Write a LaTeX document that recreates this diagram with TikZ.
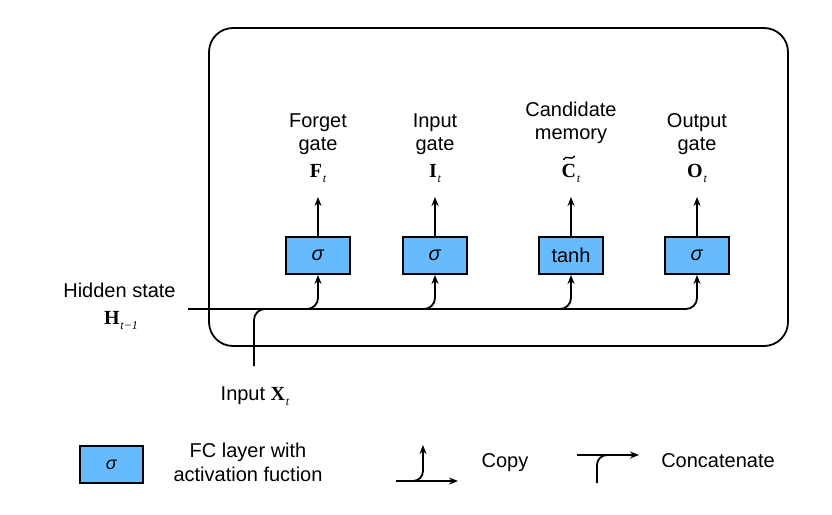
\documentclass[tikz,border=0pt]{standalone}
\usepackage{fontspec}
\setmainfont{Liberation Sans}
\newfontfamily\tmsfont{Liberation Serif}
\usetikzlibrary{arrows.meta}
\definecolor{gateblue}{RGB}{102,187,255}
\newcommand\mysub[1]{\kern0.8pt\raisebox{-5pt}{\tmsfont\itshape\fontsize{12}{12}\selectfont #1}}
\newcommand\mybv[2]{{\tmsfont\bfseries\fontsize{20}{20}\selectfont #1}\mysub{#2}}
\newcommand\mysig{\textit{σ}}
\tikzset{
  cellbox/.style={line width=1.8pt, rounded corners=24pt},
  gatebox/.style={draw, line width=2pt, fill=gateblue, minimum width=64pt, minimum height=37pt, inner sep=0pt},
  conn/.style={line width=1.8pt, rounded corners=11pt},
  arr/.style={conn, -{Stealth[length=9pt,width=7pt]}},
  lbl/.style={anchor=base, inner sep=0pt}
}
\begin{document}
\begin{tikzpicture}[x=1pt,y=-1pt,font=\fontsize{20}{23}\selectfont]
\useasboundingbox (0,0) rectangle (832,514);

% LSTM cell outline
\draw[cellbox] (209,28) rectangle (788,346);

% gates
\node[gatebox] (g1) at (318,255.5) {\mysig};
\node[gatebox] (g2) at (435,255.5) {\mysig};
\node[gatebox] (g3) at (571,255.5) {tanh};
\node[gatebox] (g4) at (697,255.5) {\mysig};

% gate labels
\node[lbl] (f1) at (318,127) {Forget};
\node[lbl] (f2) at (318,150) {gate};
\node[lbl] (f3) at (318,177) {\mybv{F}{t}};
\node[lbl] (i1) at (435,127) {Input};
\node[lbl] (i2) at (435,150) {gate};
\node[lbl] (i3) at (435,177) {\mybv{I}{t}};
\node[lbl] (c1) at (571,116) {Candidate};
\node[lbl] (c2) at (571,139) {memory};
\node[lbl] (c3) at (571,177) {\mybv{C}{t}};
% tilde over C
\draw[line width=1.4pt, line cap=round] (563.5,159.5) .. controls (566.5,154) and (570.5,161.5) .. (574.5,156);
\node[lbl] (o1) at (697,127) {Output};
\node[lbl] (o2) at (697,150) {gate};
\node[lbl] (o3) at (697,177) {\mybv{O}{t}};

% outputs of gates
\draw[arr] (g1.north) -- ++(0,-39);
\draw[arr] (g2.north) -- ++(0,-39);
\draw[arr] (g3.north) -- ++(0,-39);
\draw[arr] (g4.north) -- ++(0,-39);

% hidden state and input
\node[lbl] (hid1) at (119.5,297) {Hidden state};
\node[lbl] (hid2) at (121,324) {\mybv{H}{t−1}};
\coordinate (hs) at (188,309);
\node[lbl] (inl) at (255,400) {Input \mybv{X}{t}};
\coordinate (xs) at (254,366);
\coordinate (xm) at (285,309);

\draw[arr] (hs) -| (g4.south);
\draw[arr] (hs) -| (g3.south);
\draw[arr] (hs) -| (g2.south);
\draw[arr] (hs) -| (g1.south);
\draw[conn] (xs) |- (xm);

% legend
\node[gatebox, minimum width=63pt, minimum height=37pt, font=\fontsize{18}{18}\selectfont] (leg) at (111.5,464.5) {\mysig};
\node[lbl] (fc1) at (248,457) {FC layer with};
\node[lbl] (fc2) at (248,481.5) {activation fuction};

\coordinate (cpa) at (396,481);
\coordinate (cpb) at (458,481);
\coordinate (cpc) at (423,445);
\draw[arr] (cpa) -- (cpb);
\draw[arr, rounded corners=10pt] (cpa) -| (cpc);
\node[lbl] (copy) at (505,467) {Copy};

\coordinate (cca) at (577,455);
\coordinate (ccb) at (639,455);
\coordinate (ccc) at (597,483);
\coordinate (ccd) at (615,455);
\draw[arr] (cca) -- (ccb);
\draw[conn, rounded corners=10pt] (ccc) |- (ccd);
\node[lbl] (conc) at (718,467) {Concatenate};
\end{tikzpicture}
\end{document}
